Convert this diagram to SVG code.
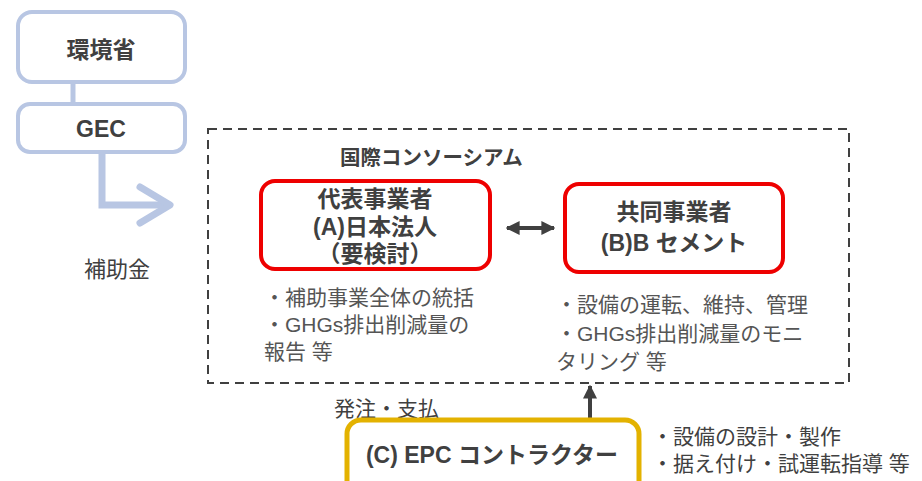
<svg xmlns="http://www.w3.org/2000/svg" width="922" height="481" viewBox="0 0 922 481">
<defs>
<style>
.blue{fill:#fff;stroke:#b8c6e3;stroke-width:4}
.red{fill:#fff;stroke:#ee0000;stroke-width:4}
.yel{fill:#fff;stroke:#e3b200;stroke-width:5}
.t{font-family:"Liberation Sans","Noto Sans CJK JP",sans-serif;fill:#404040}
.b{font-weight:bold;font-size:23px;text-anchor:middle}
.n{font-size:21px;fill:#555}
</style>
<marker id="ah" viewBox="0 0 10 10" refX="9" refY="5" markerWidth="3.5" markerHeight="3.5" orient="auto-start-reverse"><path d="M0,0 L10,5 L0,10 z" fill="#404040"/></marker>
</defs>
<g id="connectors">
<line x1="73" y1="82" x2="73" y2="104" stroke="#b8c6e3" stroke-width="5"/>
<polyline points="102,152 102,205 170,205" fill="none" stroke="#b8c6e3" stroke-width="7"/>
<polyline points="140,187 170,205 140,223" fill="none" stroke="#b8c6e3" stroke-width="7" stroke-linecap="round" stroke-linejoin="round"/>
<line x1="507" y1="228" x2="554" y2="228" stroke="#404040" stroke-width="4" marker-start="url(#ah)" marker-end="url(#ah)"/>
<line x1="590" y1="420" x2="590" y2="386" stroke="#404040" stroke-width="4" marker-end="url(#ah)"/>
</g>
<g id="consortium">
<rect x="208" y="129" width="641" height="254" fill="none" stroke="#404040" stroke-width="2" stroke-dasharray="9,6"/>
<text class="t" x="340" y="165" font-size="20.5" font-weight="bold">国際コンソーシアム</text>
</g>
<g id="moe"><rect class="blue" x="18" y="12" width="167" height="70" rx="14"/><text class="t b" x="101" y="58">環境省</text></g>
<g id="gec"><rect class="blue" x="18" y="104" width="167" height="48" rx="12"/><text class="t b" x="101" y="137" font-size="24">GEC</text></g>
<text class="t" x="84" y="277" font-size="22" fill="#555">補助金</text>
<g id="nodeA"><rect class="red" x="261" y="181" width="229" height="88" rx="14"/>
<text class="t b" x="375" y="207" font-size="22">代表事業者</text>
<text class="t b" x="375" y="235" font-size="22">(A)日本法人</text>
<text class="t b" x="375" y="262" font-size="22">（要検討）</text></g>
<g id="nodeB"><rect class="red" x="565" y="184" width="218" height="88" rx="14"/>
<text class="t b" x="674" y="220">共同事業者</text>
<text class="t b" x="674" y="251">(B)B セメント</text></g>
<g id="notesA" class="t n">
<text x="264" y="305">・補助事業全体の統括</text>
<text x="264" y="332">・GHGs排出削減量の</text>
<text x="264" y="359">報告 等</text></g>
<g id="notesB" class="t n">
<text x="556" y="312">・設備の運転、維持、管理</text>
<text x="556" y="341">・GHGs排出削減量のモニ</text>
<text x="556" y="369">タリング 等</text></g>
<text class="t" x="334" y="416" font-size="21" fill="#555">発注・支払</text>
<g id="nodeC"><rect class="yel" x="347" y="420" width="292" height="80" rx="14"/>
<text class="t b" x="492" y="463" font-size="22">(C) EPC コントラクター</text></g>
<g id="notesC" class="t" font-size="21" fill="#555">
<text x="652" y="444">・設備の設計・製作</text>
<text x="652" y="471">・据え付け・試運転指導 等</text></g>
</svg>
